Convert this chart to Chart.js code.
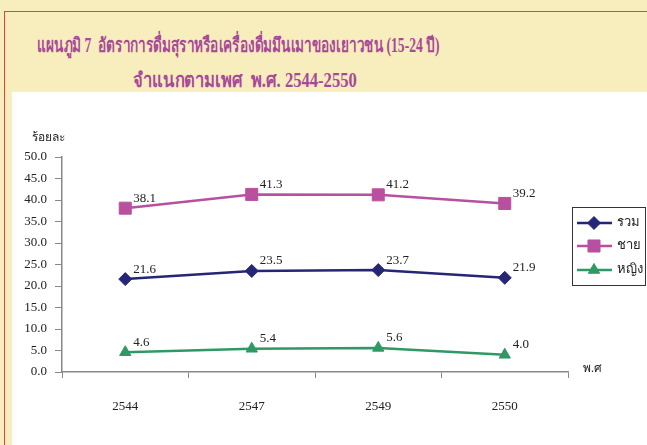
<!DOCTYPE html>
<html lang="th">
<head>
  <meta charset="UTF-8">
  <title>แผนภูมิ 7</title>
  <script src="https://cdn.jsdelivr.net/npm/chart.js"></script>
  <style>
    body {
      margin: 0;
      width: 647px;
      height: 445px;
      background: #f8edbc;
      position: relative;
      overflow: hidden;
      font-family: 'Liberation Serif', 'DejaVu Serif', serif;
    }
    .frame {
      position: absolute;
      left: 4px;
      top: 11px;
      right: -10px;
      bottom: -10px;
      border: 1px solid #e8413c;
    }
    .title {
      position: absolute;
      color: #a8489a;
      font-weight: bold;
      font-size: 20px;
      white-space: nowrap;
      transform-origin: left center;
    }
    .panel {
      position: absolute;
      left: 12px;
      top: 92px;
      right: 0;
      bottom: 0;
      background: #ffffff;
    }
    #chart {
      position: absolute;
      left: 0;
      top: 0;
    }
  </style>
</head>
<body>
  <div class="frame"></div>
  <div class="title" style="left:37px; top:29px; transform:scaleX(0.68);">แผนภูมิ 7&nbsp;&nbsp;อัตราการดื่มสุราหรือเครื่องดื่มมึนเมาของเยาวชน (15-24 ปี)</div>
  <div class="title" style="left:133px; top:64px; transform:scaleX(0.83);">จำแนกตามเพศ&nbsp;&nbsp;พ.ศ. 2544-2550</div>
  <div class="panel"></div>
  <canvas id="chart" width="647" height="445"></canvas>

  <script>
    // ข้อมูล
    const years = ['2544', '2547', '2549', '2550'];
    const total = [21.6, 23.5, 23.7, 21.9];
    const male = [38.1, 41.3, 41.2, 39.2];
    const female = [4.6, 5.4, 5.6, 4.0];
    const seriesNames = ['รวม', 'ชาย', 'หญิง'];

    const serif = "'Liberation Serif', 'DejaVu Serif', serif";

    // ป้ายค่าข้อมูล + ตัวอักษรแกน + คำอธิบาย
    const extras = {
      id: 'extras',
      afterDatasetsDraw(chart) {
        const ctx = chart.ctx;
        ctx.save();
        ctx.fillStyle = '#222';
        ctx.font = '13px ' + serif;
        ctx.textAlign = 'left';
        ctx.textBaseline = 'middle';
        chart.data.datasets.forEach((ds, i) => {
          chart.getDatasetMeta(i).data.forEach((pt, j) => {
            ctx.fillText(ds.data[j].toFixed(1), pt.x + 8, pt.y - 10);
          });
        });

        // ชื่อแกน
        ctx.font = '12px ' + serif;
        ctx.fillText('ร้อยละ', 32, 138);
        ctx.fillText('พ.ศ', 583, 369);

        // คำอธิบาย
        ctx.strokeStyle = '#333';
        ctx.lineWidth = 1;
        ctx.strokeRect(572.5, 207.5, 73, 78);
        const rows = [223, 246, 270];
        chart.data.datasets.forEach((ds, i) => {
          const y = rows[i];
          ctx.strokeStyle = ds.borderColor;
          ctx.fillStyle = ds.borderColor;
          ctx.lineWidth = 2.5;
          ctx.beginPath();
          ctx.moveTo(577, y);
          ctx.lineTo(612, y);
          ctx.stroke();
          ctx.lineWidth = 1;
          Chart.helpers.drawPoint(ctx, {
            pointStyle: ds.pointStyle,
            radius: ds.pointRadius,
            borderWidth: 1
          }, 594, y);
          ctx.fillStyle = '#222';
          ctx.font = '13px ' + serif;
          ctx.fillText(ds.label, 617, y);
        });
        ctx.restore();
      }
    };

    function series(label, data, color, style, radius) {
      return {
        label: label,
        data: data,
        borderColor: color,
        backgroundColor: color,
        pointBackgroundColor: color,
        pointBorderColor: color,
        borderWidth: 2.5,
        pointBorderWidth: 1,
        pointStyle: style,
        pointRadius: radius,
        tension: 0
      };
    }

    new Chart(document.getElementById('chart'), {
      type: 'line',
      data: {
        labels: years,
        datasets: [
          series(seriesNames[0], total, '#262676', 'rectRot', 6.5),
          series(seriesNames[1], male, '#b8509f', 'rect', 8.5),
          series(seriesNames[2], female, '#2f9965', 'triangle', 6.5)
        ]
      },
      options: {
        responsive: false,
        animation: false,
        events: [],
        layout: { padding: { left: 0, top: 157, right: 79, bottom: 0 } },
        plugins: {
          legend: { display: false },
          tooltip: { enabled: false }
        },
        scales: {
          x: {
            offset: true,
            afterFit: s => { s.height = 73; },
            grid: { offset: true, drawOnChartArea: false, tickLength: 6, color: '#888' },
            border: { color: '#888', width: 1.5 },
            ticks: { padding: 21, color: '#222', font: { family: serif, size: 13 } }
          },
          y: {
            min: 0,
            max: 50,
            afterFit: s => { s.width = 62; },
            grid: { drawOnChartArea: false, tickLength: 7, color: '#888' },
            border: { color: '#888', width: 1.5 },
            ticks: {
              stepSize: 5,
              padding: 8,
              color: '#222',
              font: { family: serif, size: 13 },
              callback: v => v.toFixed(1)
            }
          }
        }
      },
      plugins: [extras]
    });
  </script>
</body>
</html>
